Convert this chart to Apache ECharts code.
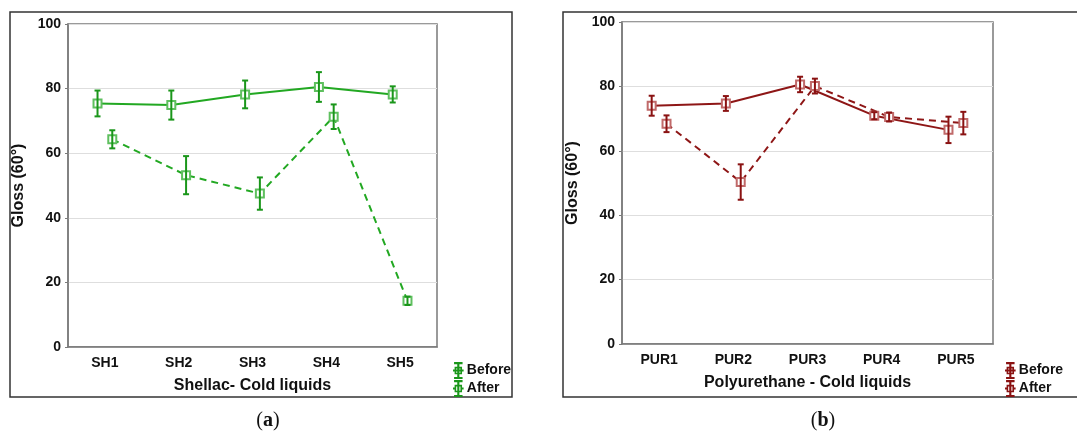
<!DOCTYPE html>
<html>
<head>
<meta charset="utf-8">
<script src="https://cdn.jsdelivr.net/npm/echarts@6/dist/echarts.min.js"></script>
<style>
  body { margin: 0; background: #fff; }
  #chartA { position: absolute; left: 0; top: 0; width: 540px; height: 437px; }
  #chartB { position: absolute; left: 540px; top: 0; width: 537px; height: 437px; }
</style>
</head>
<body>
<div id="chartA"></div>
<div id="chartB"></div>
<script>
// (a) Shellac - cold liquids
const shCats = ['SH1', 'SH2', 'SH3', 'SH4', 'SH5']
const shBefore = [75.4, 74.9, 78.2, 80.5, 78.2]
const shBeforeErr = [4.0, 4.5, 4.3, 4.6, 2.5]
const shAfter = [64.3, 53.2, 47.5, 71.3, 14.3]
const shAfterErr = [2.8, 5.9, 5.0, 3.8, 1.3]

// (b) Polyurethane - cold liquids
const purCats = ['PUR1', 'PUR2', 'PUR3', 'PUR4', 'PUR5']
const purBefore = [74.0, 74.7, 80.6, 70.9, 66.5]
const purBeforeErr = [3.1, 2.3, 2.4, 1.1, 4.1]
const purAfter = [68.4, 50.3, 80.1, 70.5, 68.6]
const purAfterErr = [2.6, 5.5, 2.3, 1.4, 3.5]

const yTicks = [0, 20, 40, 60, 80, 100]

const FONT = 'Liberation Sans, Arial, sans-serif'
const OFF = 0.1 // before/after points are shifted a little off the category

const iconBefore = 'path://M1 0H9V2H1ZM1 14H9V16H1ZM4 0H6V16H4ZM0 7H10V9H0ZM1.5 4.5H8.5V11.5H1.5ZM3 6V10H7V6Z'
const iconAfter = 'path://M1 0H9V2H1ZM1 14H9V16H1ZM4 0H6V16H4ZM0 7H1.5V9H0ZM8.5 7H10V9H8.5ZM1.5 4.5H8.5V11.5H1.5ZM3 6V10H7V6Z'

function errorBars(means, errs, shift, color) {
  return {
    type: 'custom',
    xAxisIndex: 1,
    z: 4,
    silent: true,
    encode: { x: 0, y: [1, 2] },
    data: means.map((m, i) => [i + shift, m - errs[i], m + errs[i]]),
    renderItem(params, api) {
      const top = api.coord([api.value(0), api.value(2)])
      const bot = api.coord([api.value(0), api.value(1)])
      const w = 3
      const style = { stroke: color, lineWidth: 2 }
      return {
        type: 'group',
        children: [
          { type: 'line', shape: { x1: top[0], y1: top[1], x2: bot[0], y2: bot[1] }, style },
          { type: 'line', shape: { x1: top[0] - w, y1: top[1], x2: top[0] + w, y2: top[1] }, style },
          { type: 'line', shape: { x1: bot[0] - w, y1: bot[1], x2: bot[0] + w, y2: bot[1] }, style }
        ]
      }
    }
  }
}

function lineSeries(name, means, shift, cfg, dashed) {
  return {
    name: name,
    type: 'line',
    xAxisIndex: 1,
    z: 3,
    data: means.map((m, i) => [i + shift, m]),
    symbol: 'emptyRect',
    symbolSize: 8,
    showAllSymbol: true,
    lineStyle: { color: cfg.line, width: 2, type: dashed ? [7, 5] : 'solid' },
    itemStyle: { color: cfg.marker, borderWidth: 1.3 },
    emphasis: { disabled: true }
  }
}

function buildOption(cfg) {
  return {
    animation: false,
    textStyle: { fontFamily: FONT },
    grid: {
      left: cfg.grid[0], right: cfg.grid[1], top: cfg.grid[2], bottom: cfg.grid[3],
      show: true, borderColor: '#7a7a7a', borderWidth: 1.5
    },
    legend: {
      orient: 'vertical',
      left: cfg.legendLeft,
      top: 357,
      itemWidth: 11,
      itemHeight: 17,
      itemGap: 1,
      selectedMode: false,
      itemStyle: { color: cfg.err, borderWidth: 0 },
      textStyle: { fontFamily: FONT, fontWeight: 'bold', fontSize: 14, color: '#111', padding: [0, 0, 0, -2] },
      data: [
        { name: 'Before', icon: iconBefore },
        { name: 'After', icon: iconAfter }
      ]
    },
    xAxis: [
      {
        type: 'category',
        data: cfg.cats,
        boundaryGap: true,
        name: cfg.xName,
        nameLocation: 'middle',
        nameGap: 31,
        nameTextStyle: { fontFamily: FONT, fontWeight: 'bold', fontSize: 16, color: '#111' },
        axisLine: { lineStyle: { color: '#7a7a7a', width: 1.5 } },
        axisTick: { alignWithLabel: true, inside: true, length: 3, lineStyle: { color: '#7a7a7a' } },
        axisLabel: { fontFamily: FONT, fontWeight: 'bold', fontSize: 14, color: '#111', margin: 9 }
      },
      { type: 'value', min: -0.5, max: 4.5, show: false }
    ],
    yAxis: {
      type: 'value',
      min: yTicks[0],
      max: yTicks[yTicks.length - 1],
      interval: yTicks[1] - yTicks[0],
      name: 'Gloss (60°)',
      nameLocation: 'middle',
      nameGap: 35,
      nameTextStyle: { fontFamily: FONT, fontWeight: 'bold', fontSize: 16, color: '#111' },
      axisLine: { show: true, onZero: false, lineStyle: { color: '#7a7a7a', width: 1.5 } },
      axisTick: { show: true, length: 3, lineStyle: { color: '#7a7a7a' } },
      axisLabel: { fontFamily: FONT, fontWeight: 'bold', fontSize: 14, color: '#111', margin: 7 },
      splitLine: { lineStyle: { color: '#dedede', width: 1.2 } }
    },
    graphic: [
      {
        type: 'rect',
        shape: { x: cfg.box[0], y: cfg.box[1], width: cfg.box[2], height: cfg.box[3] },
        style: { fill: 'none', stroke: '#333', lineWidth: 1.5 },
        silent: true
      },
      {
        type: 'text',
        x: cfg.captionX,
        y: 421,
        style: {
          text: '{p|(}{b|' + cfg.caption + '}{p|)}',
          align: 'center',
          verticalAlign: 'middle',
          rich: {
            p: { fontFamily: 'Liberation Serif, Times New Roman, serif', fontSize: 20, fill: '#111' },
            b: { fontFamily: 'Liberation Serif, Times New Roman, serif', fontSize: 20, fontWeight: 'bold', fill: '#111' }
          }
        }
      }
    ],
    series: [
      lineSeries('Before', cfg.before, -OFF, cfg, false),
      lineSeries('After', cfg.after, OFF, cfg, true),
      errorBars(cfg.before, cfg.beforeErr, -OFF, cfg.err),
      errorBars(cfg.after, cfg.afterErr, OFF, cfg.err)
    ]
  }
}

const chartA = echarts.init(document.getElementById('chartA'))
chartA.setOption(buildOption({
  cats: shCats,
  before: shBefore,
  beforeErr: shBeforeErr,
  after: shAfter,
  afterErr: shAfterErr,
  xName: 'Shellac- Cold liquids',
  line: '#22a822',
  err: '#1a961a',
  marker: '#5fc05f',
  grid: [68, 103, 24, 90],
  legendLeft: 448,
  box: [10, 12, 502, 385],
  captionX: 268,
  caption: 'a'
}))

const chartB = echarts.init(document.getElementById('chartB'))
chartB.setOption(buildOption({
  cats: purCats,
  before: purBefore,
  beforeErr: purBeforeErr,
  after: purAfter,
  afterErr: purAfterErr,
  xName: 'Polyurethane - Cold liquids',
  line: '#8e1616',
  err: '#8a1212',
  marker: '#c06a6a',
  grid: [82, 84, 22, 93],
  legendLeft: 460,
  box: [23, 12, 600, 385],
  captionX: 283,
  caption: 'b'
}))
</script>
</body>
</html>
